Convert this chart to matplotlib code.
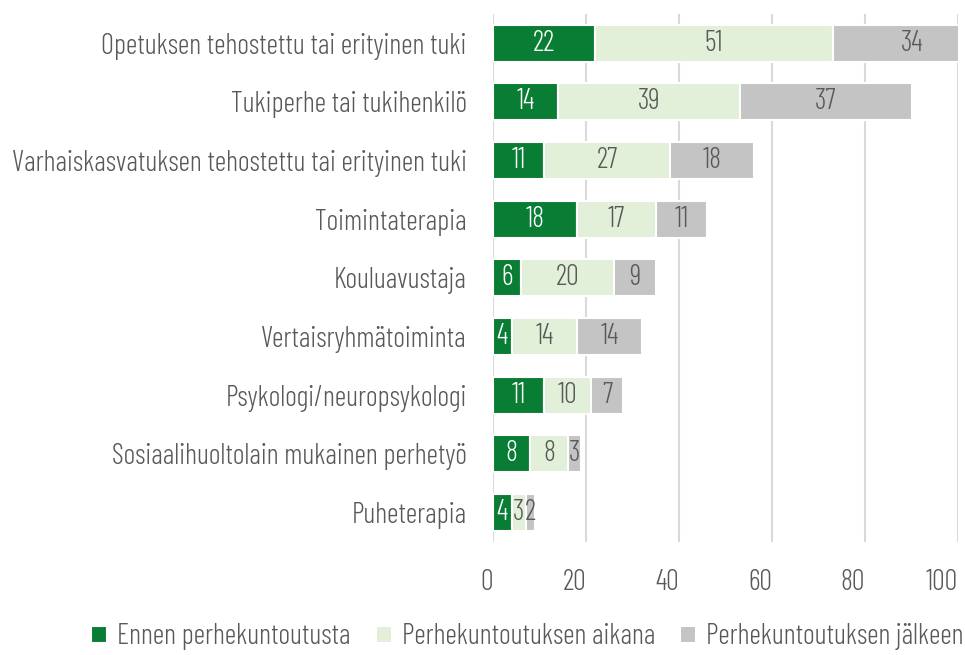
import matplotlib
matplotlib.use("Agg")
import matplotlib.pyplot as plt
import numpy as np

categories = [
    "Opetuksen tehostettu tai erityinen tuki",
    "Tukiperhe tai tukihenkilö",
    "Varhaiskasvatuksen tehostettu tai erityinen tuki",
    "Toimintaterapia",
    "Kouluavustaja",
    "Vertaisryhmätoiminta",
    "Psykologi/neuropsykologi",
    "Sosiaalihuoltolain mukainen perhetyö",
    "Puheterapia",
]
ennen = [22, 14, 11, 18, 6, 4, 11, 8, 4]
aikana = [51, 39, 27, 17, 20, 14, 10, 8, 3]
jalkeen = [34, 37, 18, 11, 9, 14, 7, 3, 2]
series_names = ["Ennen perhekuntoutusta", "Perhekuntoutuksen aikana", "Perhekuntoutuksen jälkeen"]
xticks = [0, 20, 40, 60, 80, 100]

plt.rcParams["font.family"] = ["Barlow Condensed", "DejaVu Sans"]
plt.rcParams["font.weight"] = 300

colors = ["#0a7d34", "#e2efd9", "#c4c4c4"]
txtcol = ["#ffffff", "#595959", "#595959"]
gray = "#595959"

fig = plt.figure(figsize=(9.65, 6.55), dpi=100)
renderer = fig.canvas.get_renderer()
# fit font size so the longest category label spans ~457 px
probe = fig.text(0, 0, max(categories, key=len), fontsize=16)
w = probe.get_window_extent(renderer).width
fs = 16 * 457 / w
probe.remove()

ax = fig.add_axes([0.511, 0.173, 0.482, 0.806])

y = np.arange(len(categories))
left = np.zeros(len(categories))
for vals, c, tc, name in zip([ennen, aikana, jalkeen], colors, txtcol, series_names):
    vals = np.array(vals, dtype=float)
    ax.barh(y, vals, left=left, height=0.63, color=c, edgecolor="white",
            linewidth=1.5, label=name, zorder=3)
    for yi, l, v in zip(y, left, vals):
        ax.text(l + v / 2, yi, f"{int(v)}", ha="center", va="center",
                color=tc, fontsize=fs, zorder=4)
    left += vals

ax.set_xlim(0, 100)
ax.set_ylim(len(categories) - 0.5, -0.5)
ax.set_xticks(xticks)
ax.set_xticklabels([str(t) for t in xticks], ha="right")
ax.set_yticks(y)
ax.set_yticklabels(categories)
ax.tick_params(axis="both", length=0, colors=gray, labelsize=fs)
ax.tick_params(axis="x", pad=20)
ax.tick_params(axis="y", pad=19)
ax.grid(axis="x", color="#d9d9d9", linewidth=1.5, zorder=0)
for s in ax.spines.values():
    s.set_visible(False)

leg = fig.legend(loc="lower center", bbox_to_anchor=(0.5466, -0.032), ncol=3,
                 frameon=False, fontsize=fs, handlelength=0.55, handleheight=0.55,
                 handletextpad=0.35, columnspacing=0.9)
for t in leg.get_texts():
    t.set_color(gray)

fig.savefig("out.png", dpi=100)
